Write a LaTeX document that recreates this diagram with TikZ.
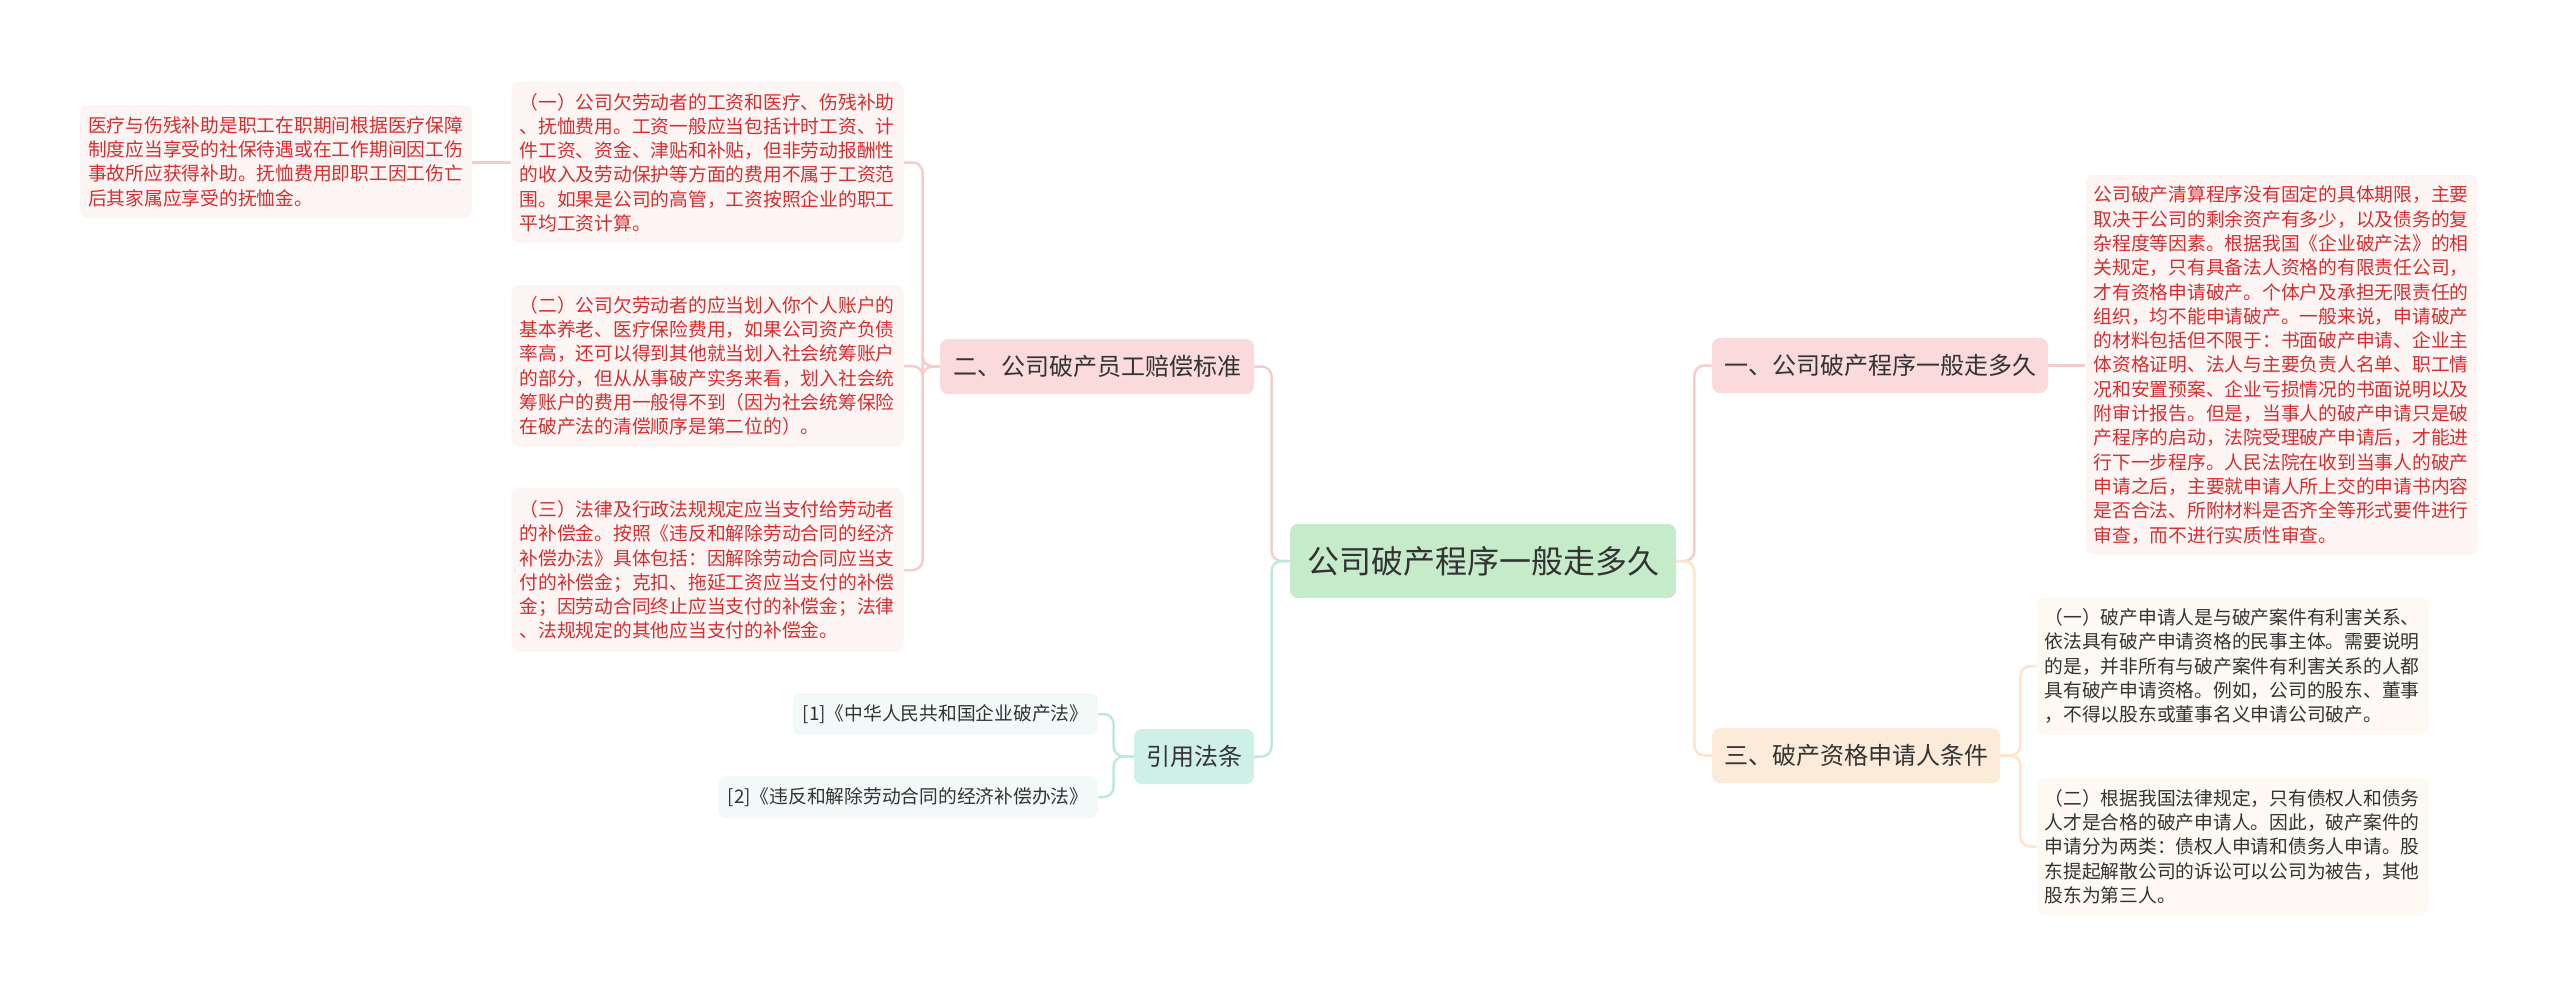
\documentclass[tikz,border=0pt]{standalone}
\usepackage{fontspec}
\setmainfont{Noto Sans CJK SC}
\definecolor{cgreen}{HTML}{C6EBCB}
\definecolor{pinkfill}{HTML}{FADADA}
\definecolor{peachfill}{HTML}{FDEBD9}
\definecolor{tealfill}{HTML}{CFF0E9}
\definecolor{leafpink}{HTML}{FDF4F4}
\definecolor{leafpeach}{HTML}{FEFAF3}
\definecolor{leafteal}{HTML}{F2FAF9}
\definecolor{linepink}{HTML}{F6CDCD}
\definecolor{linepeach}{HTML}{FDE4CB}
\definecolor{lineteal}{HTML}{BEE9E1}
\definecolor{redtxt}{HTML}{D32F2F}
\definecolor{darktxt}{HTML}{333333}
\begin{document}
\begin{tikzpicture}[x=0.5pt,y=-0.5pt,
  box/.style={rounded corners=4pt, inner sep=0pt, align=center, text=darktxt},
  central/.style={box, fill=cgreen, minimum width=193pt, minimum height=37pt,
    font=\fontsize{16pt}{19pt}\selectfont},
  cat/.style={box, minimum height=27.5pt, font=\fontsize{12pt}{14pt}\selectfont},
  leaf/.style={rounded corners=4pt, inner xsep=4pt, inner ysep=3pt, text width=188pt,
    align=left, font=\fontsize{9.375pt}{12.15pt}\selectfont},
  citeleaf/.style={box, fill=leafteal, minimum height=21pt,
    font=\fontsize{9.375pt}{11pt}\selectfont},
  conn/.style={line width=1.25pt, rounded corners=5pt},
  lpink/.style={conn, draw=linepink},
  lpeach/.style={conn, draw=linepeach},
  lteal/.style={conn, draw=lineteal}]
\fill[white] (0,0) rectangle (2560,997);
\useasboundingbox (0,0) rectangle (2560,997);

% central
\node[central] (c) at (1483,561) {公司破产程序一般走多久};

% categories
\node[cat, fill=pinkfill, minimum width=157pt] (n2) at (1097,366.5) {二、公司破产员工赔偿标准};
\node[cat, fill=pinkfill, minimum width=168pt] (n1) at (1880,365.5) {一、公司破产程序一般走多久};
\node[cat, fill=peachfill, minimum width=144pt] (n3) at (1856,755.5) {三、破产资格申请人条件};
\node[cat, fill=tealfill, minimum width=60pt] (cite) at (1194,756.5) {引用法条};

% citation leaves
\node[citeleaf, minimum width=152.5pt] (c1) at (945.5,714) {[1]《中华人民共和国企业破产法》};
\node[citeleaf, minimum width=190pt] (c2) at (908,797) {[2]《违反和解除劳动合同的经济补偿办法》};

% left leaves
\node[leaf, fill=leafpink, text=redtxt, minimum height=80.5pt] (l1) at (707.5,162.5) {%
（一）公司欠劳动者的工资和医疗、伤残补助\\
、抚恤费用。工资一般应当包括计时工资、计\\
件工资、资金、津贴和补贴，但非劳动报酬性\\
的收入及劳动保护等方面的费用不属于工资范\\
围。如果是公司的高管，工资按照企业的职工\\
平均工资计算。};
\node[leaf, fill=leafpink, text=redtxt, minimum height=81pt] (l2) at (707.5,366) {%
（二）公司欠劳动者的应当划入你个人账户的\\
基本养老、医疗保险费用，如果公司资产负债\\
率高，还可以得到其他就当划入社会统筹账户\\
的部分，但从从事破产实务来看，划入社会统\\
筹账户的费用一般得不到（因为社会统筹保险\\
在破产法的清偿顺序是第二位的）。};
\node[leaf, fill=leafpink, text=redtxt, minimum height=82pt] (l3) at (707.5,570) {%
（三）法律及行政法规规定应当支付给劳动者\\
的补偿金。按照《违反和解除劳动合同的经济\\
补偿办法》具体包括：因解除劳动合同应当支\\
付的补偿金；克扣、拖延工资应当支付的补偿\\
金；因劳动合同终止应当支付的补偿金；法律\\
、法规规定的其他应当支付的补偿金。};
\node[leaf, fill=leafpink, text=redtxt, minimum height=56.5pt] (fl) at (276,161.5) {%
医疗与伤残补助是职工在职期间根据医疗保障\\
制度应当享受的社保待遇或在工作期间因工伤\\
事故所应获得补助。抚恤费用即职工因工伤亡\\
后其家属应享受的抚恤金。};

% right leaves
\node[leaf, fill=leafpink, text=redtxt, minimum height=190pt] (rb) at (2281.5,365) {%
公司破产清算程序没有固定的具体期限，主要\\
取决于公司的剩余资产有多少，以及债务的复\\
杂程度等因素。根据我国《企业破产法》的相\\
关规定，只有具备法人资格的有限责任公司，\\
才有资格申请破产。个体户及承担无限责任的\\
组织，均不能申请破产。一般来说，申请破产\\
的材料包括但不限于：书面破产申请、企业主\\
体资格证明、法人与主要负责人名单、职工情\\
况和安置预案、企业亏损情况的书面说明以及\\
附审计报告。但是，当事人的破产申请只是破\\
产程序的启动，法院受理破产申请后，才能进\\
行下一步程序。人民法院在收到当事人的破产\\
申请之后，主要就申请人所上交的申请书内容\\
是否合法、所附材料是否齐全等形式要件进行\\
审查，而不进行实质性审查。};
\node[leaf, fill=leafpeach, text=darktxt, minimum height=69pt] (r1) at (2232.5,666) {%
（一）破产申请人是与破产案件有利害关系、\\
依法具有破产申请资格的民事主体。需要说明\\
的是，并非所有与破产案件有利害关系的人都\\
具有破产申请资格。例如，公司的股东、董事\\
，不得以股东或董事名义申请公司破产。};
\node[leaf, fill=leafpeach, text=darktxt, minimum height=68.5pt] (r2) at (2232.5,846.5) {%
（二）根据我国法律规定，只有债权人和债务\\
人才是合格的破产申请人。因此，破产案件的\\
申请分为两类：债权人申请和债务人申请。股\\
东提起解散公司的诉讼可以公司为被告，其他\\
股东为第三人。};

% connectors
\draw[lpink] (c.west) -- ++(-9pt,0) |- (n2.east);
\draw[lteal] (c.west) -- ++(-9pt,0) |- (cite.east);
\draw[lpink] (c.east) -- ++(9pt,0) |- (n1.west);
\draw[lpeach] (c.east) -- ++(9pt,0) |- (n3.west);
\draw[lpink] (n1.east) -- (n1.east -| rb.west);
\draw[lpeach] (n3.east) -- ++(10pt,0) |- (r1.west);
\draw[lpeach] (n3.east) -- ++(10pt,0) |- (r2.west);
\draw[lpink] (n2.west) -- ++(-8.5pt,0) |- (l1.east);
\draw[lpink] (n2.west) -- ++(-8.5pt,0) |- (l2.east);
\draw[lpink] (n2.west) -- ++(-8.5pt,0) |- (l3.east);
\draw[lpink] (l1.west) -- (l1.west -| fl.east);
\draw[lteal] (cite.west) -- ++(-10pt,0) |- (c1.east);
\draw[lteal] (cite.west) -- ++(-10pt,0) |- (c2.east);
\end{tikzpicture}
\end{document}
